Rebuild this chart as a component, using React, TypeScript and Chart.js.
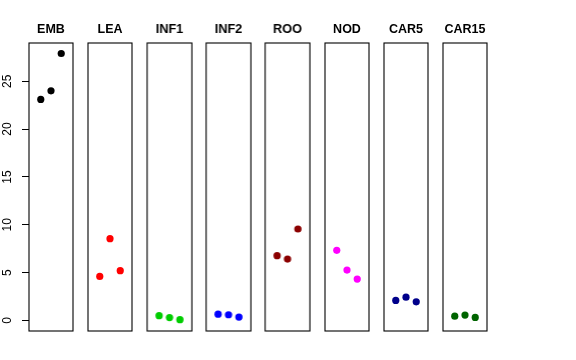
import React, { useEffect, useRef } from "react";
import { Chart, registerables } from "chart.js";

Chart.register(...registerables);

// ---- data ----
const categories = ["EMB", "LEA", "INF1", "INF2", "ROO", "NOD", "CAR5", "CAR15"];
const replicate = [1, 2, 3];
const emb = [23.1, 24.0, 27.9];
const lea = [4.6, 8.55, 5.2];
const inf1 = [0.5, 0.3, 0.08];
const inf2 = [0.66, 0.6, 0.36];
const roo = [6.77, 6.42, 9.56];
const nod = [7.33, 5.27, 4.33];
const car5 = [2.1, 2.44, 1.95];
const car15 = [0.45, 0.56, 0.32];
const seriesValues = [emb, lea, inf1, inf2, roo, nod, car5, car15];
const colors = ["#000000", "#FF0000", "#00CD00", "#0000FF", "#8B0000", "#FF00FF", "#00008B", "#006400"];
const yTicks = [0, 5, 10, 15, 20, 25];

// ---- layout ----
const W = 576;
const H = 360;
const FIRST_LEFT = 29;
const STEP = 59.1;
const PANEL_W = 44.4;
const TOP = 43;
const BOTTOM_PAD = 29;
const FONT = "'Liberation Sans', Arial, Helvetica, sans-serif";

const boxPlugin = {
  id: "panelBox",
  afterDraw(chart: any) {
    const { ctx, chartArea } = chart;
    ctx.save();
    ctx.strokeStyle = "#000";
    ctx.lineWidth = 1.1;
    ctx.strokeRect(chartArea.left, chartArea.top, chartArea.right - chartArea.left, chartArea.bottom - chartArea.top);
    ctx.restore();
  },
};

function Panel({ index }: { index: number }) {
  const ref = useRef<HTMLCanvasElement | null>(null);
  const panelLeft = FIRST_LEFT + index * STEP;
  const first = index === 0;
  const canvasLeft = first ? 0 : panelLeft - 8;
  const canvasW = first ? panelLeft + PANEL_W + 8 : PANEL_W + 16;
  const padLeft = first ? 0 : 8;
  const padRight = 8;

  useEffect(() => {
    if (!ref.current) return;
    const data = seriesValues[index].map((v, k) => ({ x: replicate[k], y: v }));
    const chart = new Chart(ref.current, {
      type: "scatter",
      data: {
        datasets: [
          {
            label: categories[index],
            data,
            backgroundColor: colors[index],
            borderColor: colors[index],
            borderWidth: 0,
            pointRadius: 3.6,
          },
        ],
      },
      options: {
        responsive: false,
        animation: false,
        devicePixelRatio: 1,
        layout: { padding: { left: padLeft, right: padRight, top: 0, bottom: BOTTOM_PAD } },
        plugins: {
          legend: { display: false },
          tooltip: { enabled: false },
          title: {
            display: true,
            fullSize: false,
            text: categories[index],
            color: "#000",
            font: { family: FONT, size: 12.5, weight: "bold" },
            padding: { top: 21.7, bottom: TOP - 21.7 - 15 },
          },
        },
        scales: {
          x: { type: "linear", min: -0.15, max: 4.15, display: false },
          y: {
            type: "linear",
            min: -1.1,
            max: 29.0,
            display: first,
            afterBuildTicks: (scale: any) => {
              scale.ticks = yTicks.map((v) => ({ value: v }));
            },
            afterFit: (scale: any) => {
              if (first) scale.width = FIRST_LEFT;
            },
            border: { display: false },
            grid: {
              drawOnChartArea: false,
              drawTicks: true,
              tickLength: 7,
              tickColor: "#000",
              tickWidth: 1,
            },
            ticks: {
              minRotation: 90,
              maxRotation: 90,
              crossAlign: "center",
              padding: 8,
              color: "#000",
              font: { family: FONT, size: 12 },
            },
          },
        },
      },
      plugins: [boxPlugin],
    } as any);
    return () => chart.destroy();
  }, [index]);

  return (
    <canvas
      ref={ref}
      width={canvasW}
      height={H}
      style={{ position: "absolute", left: canvasLeft, top: 0, width: canvasW, height: H }}
    />
  );
}

export default function App() {
  return (
    <div style={{ position: "fixed", left: 0, top: 0, width: W, height: H, background: "#fff", overflow: "hidden" }}>
      {categories.map((c, i) => (
        <Panel key={c} index={i} />
      ))}
    </div>
  );
}
